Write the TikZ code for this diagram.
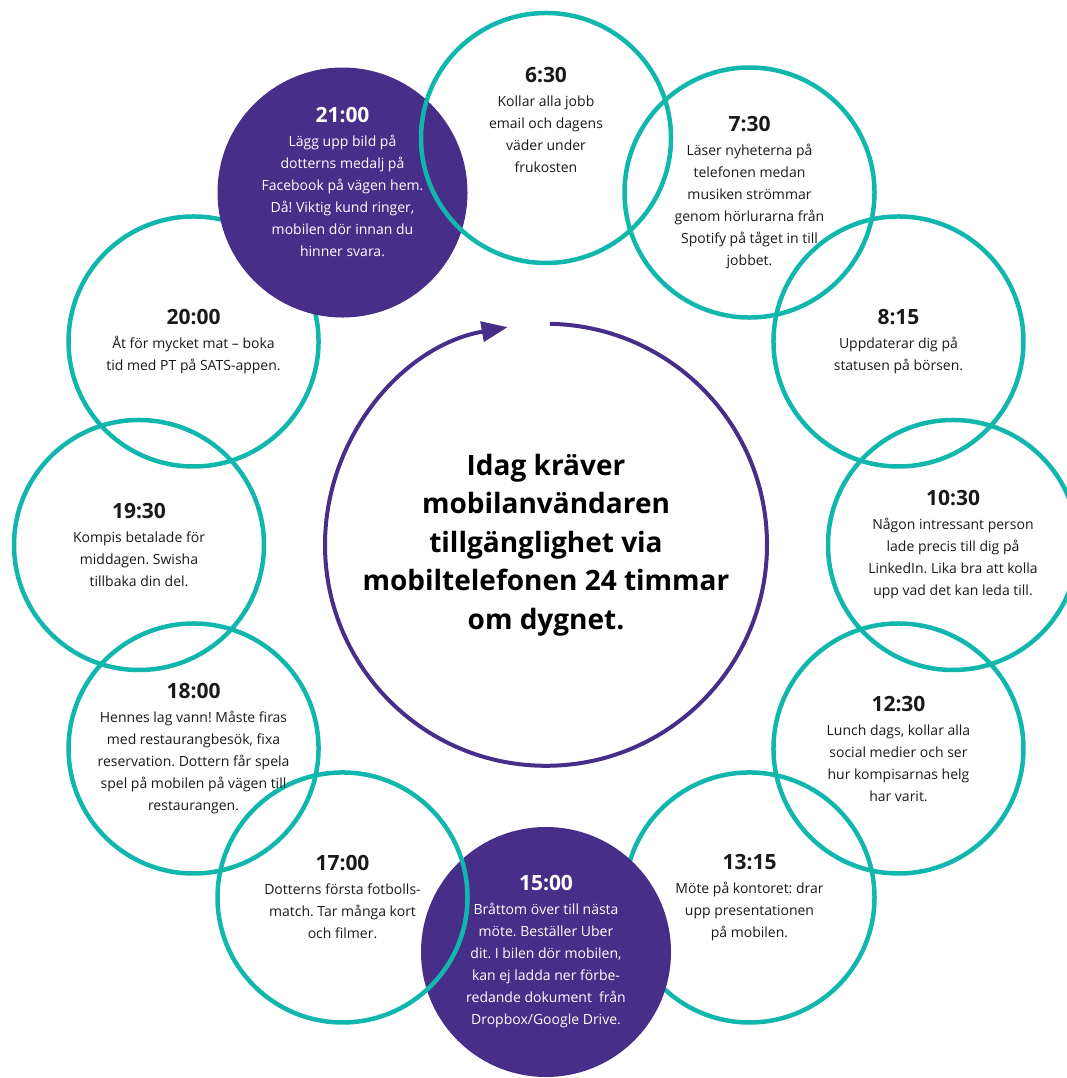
\documentclass[tikz,border=0pt]{standalone}
\usepackage{fontspec}
\setmainfont{Open Sans}
\usetikzlibrary{arrows.meta}
\frenchspacing

\definecolor{ringteal}{HTML}{11B7AC}
\definecolor{dayviolet}{HTML}{462E89}
\newcommand{\slottime}[1]{{\fontsize{21}{24}\selectfont\bfseries #1}}

\begin{document}
\begin{tikzpicture}[x=1pt,y=1pt]
\tikzstyle{slot}=[circle,draw=ringteal,line width=4.5pt,minimum size=250pt,inner sep=0pt,
  align=center,text=black!90,font=\fontsize{14}{22}\selectfont]
\tikzstyle{hot}=[slot,draw=none,fill=dayviolet,text=white]
\tikzstyle{ring}=[draw=dayviolet,line width=4pt]
\useasboundingbox (0,0) rectangle (1066,1078);
\coordinate (hub) at (546,533);

% the day, clockwise from the morning
\node[slot] (s0730) at ([shift={(60:407)}]hub) {\slottime{7:30}\\[2pt]L\"aser nyheterna p\aa\\telefonen medan\\musiken str\"ommar\\genom h\"orlurarna fr\aa n\\Spotify p\aa\ t\aa get in till\\jobbet.};
\node[slot] (s0815) at ([shift={(30:407)}]hub) {\slottime{8:15}\\[2pt]Uppdaterar dig p\aa\\statusen p\aa\ b\"orsen.};
\node[slot] (s1030) at ([shift={(0:407)}]hub) {\slottime{10:30}\\[2pt]N\aa gon intressant person\\lade precis till dig p\aa\\LinkedIn. Lika bra att kolla\\upp vad det kan leda till.};
\node[slot] (s1230) at ([shift={(-30:407)}]hub) {\slottime{12:30}\\[2pt]Lunch dags, kollar alla\\social medier och ser\\hur kompisarnas helg\\har varit.};
\node[slot] (s1315) at ([shift={(-60:407)}]hub) {\slottime{13:15}\\[2pt]M\"ote p\aa\ kontoret: drar\\upp presentationen\\p\aa\ mobilen.};
\node[hot] (s1500) at ([shift={(-90:407)}]hub) {\slottime{15:00}\\[2pt]Br\aa ttom \"over till n\"asta\\m\"ote. Best\"aller Uber\\dit. I bilen d\"or mobilen,\\kan ej ladda ner f\"orbe-\\redande dokument\ \ fr\aa n\\Dropbox/Google Drive.};
\node[slot] (s1700) at ([shift={(-120:407)}]hub) {\slottime{17:00}\\[2pt]Dotterns f\"orsta fotbolls-\\match. Tar m\aa nga kort\\och filmer.};
\node[slot] (s1800) at ([shift={(-150:407)}]hub) {\slottime{18:00}\\[2pt]Hennes lag vann! M\aa ste firas\\med restaurangbes\"ok, fixa\\reservation. Dottern f\aa r spela\\spel p\aa\ mobilen p\aa\ v\"agen till\\restaurangen.};
\node[slot] (s1930) at ([shift={(180:407)}]hub) {\slottime{19:30}\\[2pt]Kompis betalade f\"or\\middagen. Swisha\\tillbaka din del.};
\node[slot] (s2000) at ([shift={(150:407)}]hub) {\slottime{20:00}\\[2pt]\AA t f\"or mycket mat -- boka\\tid med PT p\aa\ SATS-appen.};
\node[hot] (s2100) at ([shift={(120:407)}]hub) {\slottime{21:00}\\[2pt]L\"agg upp bild p\aa\\dotterns medalj p\aa\\Facebook p\aa\ v\"agen hem.\\D\aa! Viktig kund ringer,\\mobilen d\"or innan du\\hinner svara.\\[0pt]{}};
\node[slot] (s0630) at ([shift={(90:407)}]hub) {\slottime{6:30}\\[2pt]Kollar alla jobb\\email och dagens\\v\"ader under\\frukosten\\[14pt]{}};

% the message in the middle
\node[circle,minimum size=442pt,inner sep=0pt,align=center,
  font=\fontsize{28}{38.5}\selectfont\bfseries] (mid) at (hub)
  {Idag kr\"aver\\mobilanv\"andaren\\tillg\"anglighet via\\mobiltelefonen 24 timmar\\om dygnet.};
\draw[ring,-{Triangle[length=26pt,width=20pt]}] (mid.89) arc[start angle=89,end angle=-260,radius=221];
\end{tikzpicture}
\end{document}
